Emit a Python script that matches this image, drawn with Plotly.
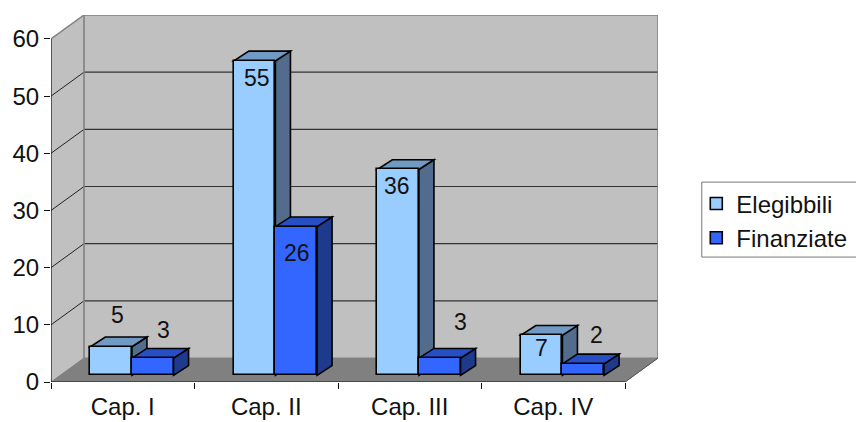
import plotly.graph_objects as go

categories = ["Cap. I", "Cap. II", "Cap. III", "Cap. IV"]
elegibbili = [5, 55, 36, 7]
finanziate = [3, 26, 3, 2]
y_ticks = [0, 10, 20, 30, 40, 50, 60]

FONT = "Liberation Sans, Arial, sans-serif"
W, H = 856, 422
L, R, T, B = 50.5, 657.7, 14.5, 381.7
DX, DY = 0.23, 4.19          # depth of the chart box (axis units)
BW = 0.29                    # bar width
BDX, BDY = 0.1046, 1.7       # depth of a bar
SX, SY = 0.064, 1.17         # bars stand this far back from the front edge
XMAX, YMAX = len(categories) + DX, max(y_ticks) + DY
WALL, FLOOR, EDGE = "#C0C0C0", "#808080", "#808080"
N = len(categories)
TXT = 23
PW, PH = R - L, B - T


def poly(pts, fill, line=None, width=1.0):
    path = "M" + " L".join(f"{x:.4f},{y:.4f}" for x, y in pts) + " Z"
    return dict(type="path", path=path, xref="x", yref="y", fillcolor=fill,
                line=dict(color=line or fill, width=width), layer="below")


def seg(x0, y0, x1, y1, color, width=1.0):
    return dict(type="line", x0=x0, y0=y0, x1=x1, y1=y1, xref="x", yref="y",
                line=dict(color=color, width=width), layer="below")


top = max(y_ticks)
shapes = [
    poly([(0, 0), (DX, DY), (DX, YMAX), (0, top)], WALL),
    poly([(DX, DY), (XMAX, DY), (XMAX, YMAX), (DX, YMAX)], WALL),
    poly([(0, 0), (N, 0), (XMAX, DY), (DX, DY)], FLOOR),
]
for t in y_ticks[1:-1]:
    shapes.append(seg(0, t, DX, t + DY, "#222222", 1))
    shapes.append(seg(DX, t + DY, XMAX, t + DY, "#333333", 1.2))
shapes += [
    seg(DX, DY, DX, YMAX, EDGE, 1.6),
    seg(XMAX, DY, XMAX, YMAX, EDGE, 1.6),
    seg(DX, YMAX, XMAX, YMAX, EDGE, 1.6),
    seg(0, top, DX, YMAX, EDGE, 1.4),
    seg(N, 0, XMAX, DY, "#555555", 1),
    seg(0, 0, 0, top, "#111111", 1.2),
    seg(0, 0, N, 0, "#111111", 1.2),
]

# legend frame (its right side runs off the picture, as in the reference)
shapes.append(dict(type="rect", xref="paper", yref="paper",
                   x0=(701.5 - L) / PW, x1=(866 - L) / PW,
                   y0=(B - 256.7) / PH, y1=(B - 181.7) / PH,
                   line=dict(color="#777777", width=1), fillcolor="white", layer="below"))


def bar_3d(center, value, top_color, side_color):
    x0, x1 = center - BW / 2, center + BW / 2
    y0, y1 = SY, SY + value
    return [
        poly([(x1, y0), (x1 + BDX, y0 + BDY), (x1 + BDX, y1 + BDY), (x1, y1)],
             side_color, "#000000", 1.6),
        poly([(x0, y1), (x1, y1), (x1 + BDX, y1 + BDY), (x0 + BDX, y1 + BDY)],
             top_color, "#000000", 1.6),
    ]


centers = [i + 0.5 + SX for i in range(N)]
x_e = [c - BW / 2 for c in centers]
x_f = [c + BW / 2 for c in centers]
for i in range(N):
    shapes += bar_3d(x_e[i], elegibbili[i], "#7099C4", "#526C8E")
    shapes += bar_3d(x_f[i], finanziate[i], "#284EC4", "#1E3A8C")

fig = go.Figure()
fig.add_trace(go.Bar(name="Elegibbili", x=x_e, y=elegibbili, base=SY, width=BW,
                     marker=dict(color="#99CCFF", line=dict(color="#000000", width=1.6))))
fig.add_trace(go.Bar(name="Finanziate", x=x_f, y=finanziate, base=SY, width=BW,
                     marker=dict(color="#3366FF", line=dict(color="#000000", width=1.6))))

# data labels: anchored on each bar's top, nudged in pixels as in the picture
nudge_e = [(6, 32), (2, -17), (-1, -17), (0, -13)]
nudge_f = [(11, 28), (1, -26), (21, 36), (13, 29)]
annotations = []
for xs, vals, nudges in ((x_e, elegibbili, nudge_e), (x_f, finanziate, nudge_f)):
    for x, v, (nx, ny) in zip(xs, vals, nudges):
        annotations.append(dict(x=x, y=SY + v, text=str(v), showarrow=False,
                                xref="x", yref="y", xshift=nx, yshift=ny,
                                font=dict(family=FONT, size=TXT, color="#111111")))

fig.update_layout(
    width=W, height=H, autosize=False,
    margin=dict(l=L, r=W - R, t=T, b=H - B, autoexpand=False),
    paper_bgcolor="white", plot_bgcolor="white",
    barmode="overlay", bargap=0,
    shapes=shapes, annotations=annotations,
    font=dict(family=FONT, size=TXT, color="#111111"),
    legend=dict(x=(696 - L) / PW, y=(B - 181) / PH, xanchor="left", yanchor="top",
                bgcolor="rgba(0,0,0,0)", borderwidth=0,
                font=dict(family=FONT, size=24, color="#111111"),
                traceorder="normal", itemclick=False, itemdoubleclick=False),
    xaxis=dict(range=[0, XMAX], showgrid=False, zeroline=False, showline=False,
               tickmode="array", tickvals=[i + 0.5 for i in range(N)], ticktext=categories,
               ticks="outside", ticklen=3, tickcolor="rgba(0,0,0,0)",
               tickfont=dict(family=FONT, size=24, color="#111111"),
               minor=dict(tickmode="array", tickvals=list(range(N + 1)), ticks="outside",
                          ticklen=6, tickcolor="#111111", tickwidth=1)),
    yaxis=dict(range=[0, YMAX], showgrid=False, zeroline=False, showline=False,
               tickmode="array", tickvals=y_ticks, ticks="outside", ticklen=6,
               tickcolor="#111111", tickwidth=1,
               tickfont=dict(family=FONT, size=24, color="#111111")),
)
fig.write_html("out.html", config=dict(displayModeBar=False),
               post_script="document.body.style.margin='0';document.body.style.overflow='hidden';")
